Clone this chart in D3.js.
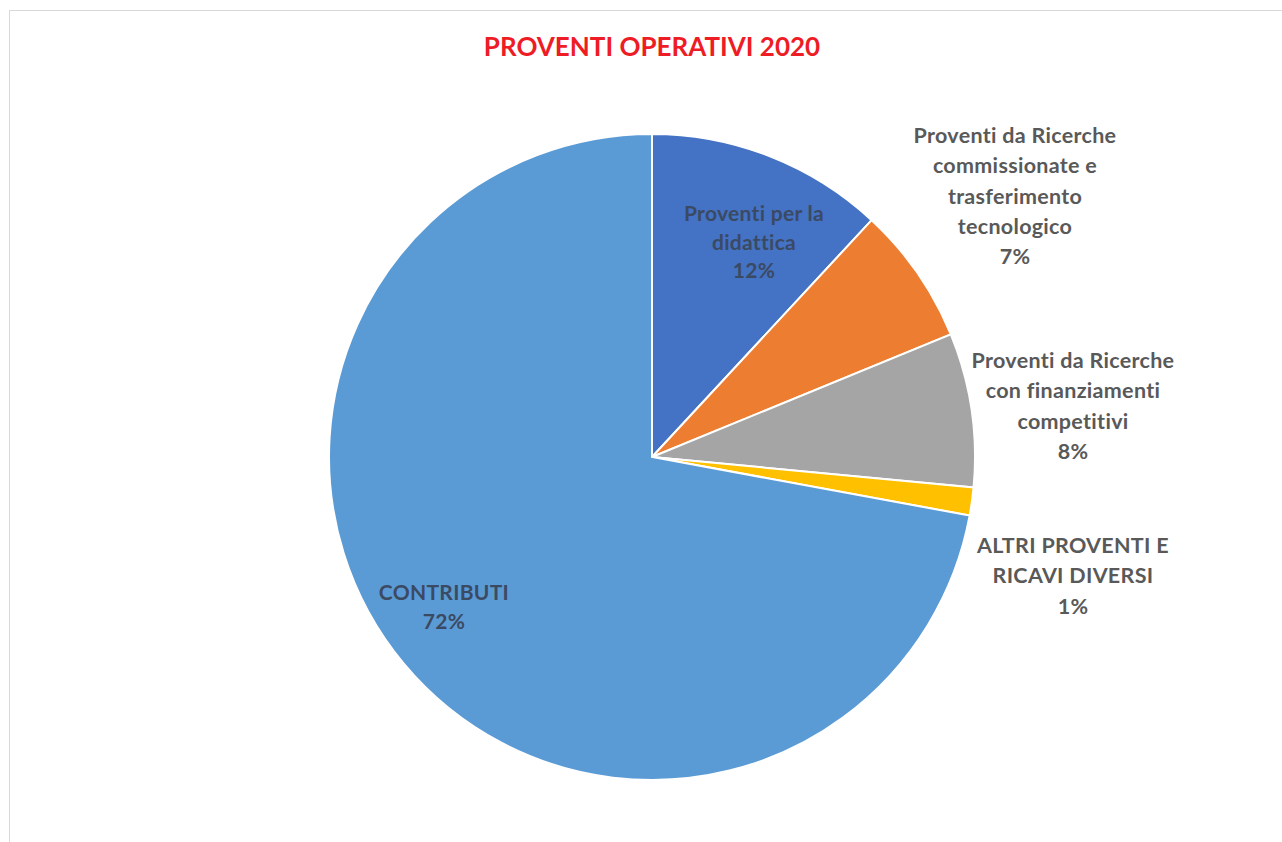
<!DOCTYPE html>
<html>
<head>
<meta charset="utf-8">
<script src="https://cdn.jsdelivr.net/npm/d3@7"></script>
<style>
  body { margin: 0; background: #fff; }
  svg { display: block; font-family: Lato, "Open Sans", sans-serif; }
</style>
</head>
<body>
<div id="chart"></div>
<script>
// data (shares in %)
const categories = [
    "Proventi per la didattica",
    "Proventi da Ricerche commissionate e trasferimento tecnologico",
    "Proventi da Ricerche con finanziamenti competitivi",
    "ALTRI PROVENTI  E RICAVI DIVERSI",
    "CONTRIBUTI"
];
const values = [11.9, 6.9, 7.7, 1.4, 72.1];
const labelLines = [
    ["Proventi per la", "didattica"],
    ["Proventi da Ricerche", "commissionate e", "trasferimento", "tecnologico"],
    ["Proventi da Ricerche", "con finanziamenti", "competitivi"],
    ["ALTRI PROVENTI  E", "RICAVI DIVERSI"],
    ["CONTRIBUTI"]
];
const colors = ["#4472c4", "#ed7d31", "#a5a5a5", "#ffc000", "#5b9bd5"];

// label placement (first line baseline), inside or outside the pie
const labelPos = [
    { x: 754, y: 221, inside: true },
    { x: 1015, y: 143, inside: false },
    { x: 1073, y: 368, inside: false },
    { x: 1073, y: 553, inside: false },
    { x: 444, y: 600, inside: true }
];

const W = 1282, H = 842;
const cx = 652, cy = 457, R = 323;

const svg = d3.select("#chart").append("svg")
    .attr("width", W)
    .attr("height", H);

// chart area border (only top and left visible)
svg.append("rect")
    .attr("x", 9.5).attr("y", 10.5)
    .attr("width", W).attr("height", H)
    .attr("fill", "none")
    .attr("stroke", "#d9d9d9")
    .attr("stroke-width", 1);

svg.append("text")
    .attr("x", cx)
    .attr("y", 56)
    .attr("text-anchor", "middle")
    .style("font-size", "26px")
    .style("font-weight", "bold")
    .style("fill", "#ee1c25")
    .text("PROVENTI OPERATIVI 2020");

const pie = d3.pie().sort(null).value(d => d);
const arc = d3.arc().innerRadius(0).outerRadius(R);
const arcs = pie(values);

const g = svg.append("g").attr("transform", `translate(${cx},${cy})`);

g.selectAll("path")
    .data(arcs)
    .enter().append("path")
    .attr("d", arc)
    .attr("fill", (d, i) => colors[i])
    .attr("stroke", "#fff")
    .attr("stroke-width", 2);

const pct = d3.format(".0f");

labelPos.forEach((p, i) => {
    const lines = labelLines[i].concat([pct(values[i]) + "%"]);
    const step = p.inside ? 28.5 : 30.3;
    const t = svg.append("text")
        .attr("text-anchor", "middle")
        .style("font-size", p.inside ? "21px" : "21.5px")
        .style("font-weight", "bold")
        .style("letter-spacing", "0.3px")
        .style("fill", p.inside ? "#3b4a63" : "#595959");
    lines.forEach((s, k) => {
        t.append("tspan")
            .attr("x", p.x)
            .attr("y", p.y + k * step)
            .text(s);
    });
});
</script>
</body>
</html>
